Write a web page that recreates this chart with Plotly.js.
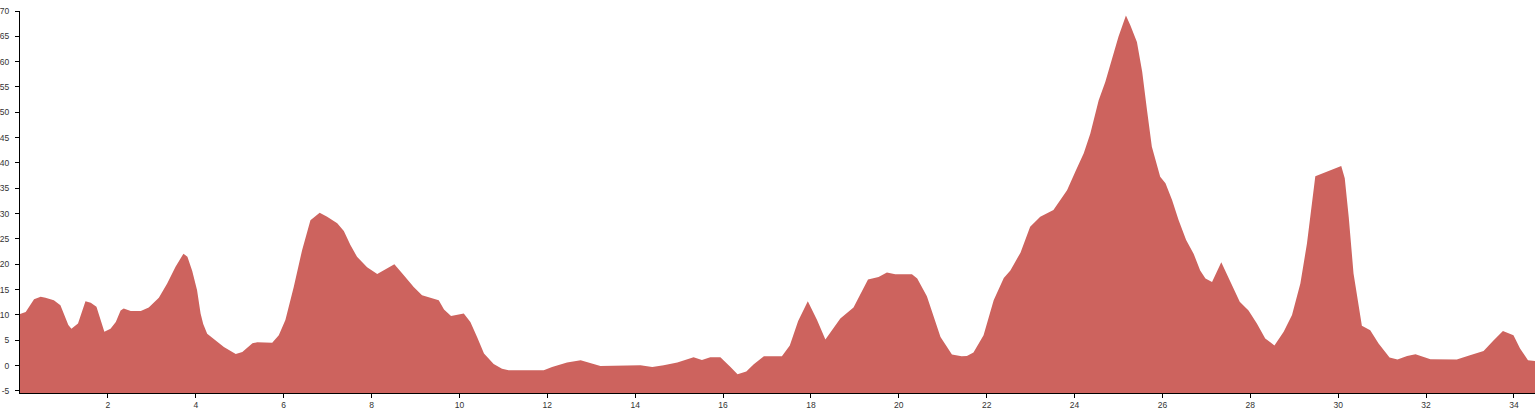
<!DOCTYPE html>
<html>
<head>
<meta charset="utf-8">
<script src="https://cdn.plot.ly/plotly-3.0.1.min.js"></script>
<style>
  html, body { margin: 0; padding: 0; background: #fff; }
  #chart { width: 1538px; height: 410px; }
</style>
</head>
<body>
<div id="chart"></div>
<script>
// Distance along route (km)
const distance = [
  0.00, 0.13, 0.32, 0.47, 0.58, 0.77, 0.92, 1.00, 1.10, 1.17, 1.32, 1.49, 1.61, 1.74, 1.92,
  2.06, 2.18, 2.29, 2.36, 2.52, 2.75, 2.93, 3.16, 3.35, 3.54, 3.72, 3.81, 3.92, 4.03, 4.11,
  4.17, 4.26, 4.45, 4.64, 4.91, 5.06, 5.29, 5.40, 5.74, 5.89, 6.04, 6.23, 6.42, 6.61, 6.82,
  6.99, 7.22, 7.37, 7.52, 7.67, 7.90, 8.13, 8.36, 8.52, 8.73, 8.96, 9.15, 9.34, 9.53, 9.65,
  9.81, 10.10, 10.25, 10.40, 10.56, 10.78, 10.97, 11.12, 11.92, 12.11, 12.45, 12.76, 12.91, 13.21, 14.12,
  14.39, 14.65, 14.96, 15.33, 15.52, 15.71, 15.94, 16.17, 16.33, 16.53, 16.70, 16.93, 17.23, 17.34, 17.52,
  17.71, 17.93, 18.14, 18.33, 18.67, 18.97, 19.13, 19.30, 19.54, 19.73, 19.92, 20.30, 20.42, 20.64, 20.95,
  21.21, 21.43, 21.55, 21.70, 21.93, 22.16, 22.39, 22.54, 22.77, 22.99, 23.22, 23.52, 23.68, 23.83, 24.02,
  24.21, 24.36, 24.55, 24.70, 24.85, 25.00, 25.17, 25.27, 25.42, 25.54, 25.65, 25.76, 25.95, 26.07, 26.22,
  26.37, 26.54, 26.71, 26.86, 26.98, 27.13, 27.34, 27.55, 27.76, 27.96, 28.15, 28.34, 28.55, 28.76, 28.95,
  29.14, 29.29, 29.48, 29.75, 30.07, 30.15, 30.24, 30.35, 30.54, 30.73, 30.92, 31.17, 31.35, 31.57, 31.76,
  32.10, 32.40, 32.70, 33.00, 33.31, 33.54, 33.75, 33.99, 34.14, 34.32, 34.48
];
// Elevation (m)
const elevation = [
  10.2, 10.6, 13.1, 13.6, 13.4, 12.9, 11.9, 10.3, 8.0, 7.3, 8.3, 12.7, 12.4, 11.6, 6.7,
  7.3, 8.6, 10.9, 11.3, 10.8, 10.8, 11.5, 13.4, 16.2, 19.5, 22.1, 21.5, 18.7, 14.9, 10.3,
  8.2, 6.3, 5.0, 3.7, 2.3, 2.7, 4.4, 4.6, 4.5, 6.0, 9.0, 15.5, 22.8, 28.7, 30.2,
  29.4, 28.1, 26.6, 23.8, 21.5, 19.4, 18.1, 19.2, 20.0, 17.9, 15.5, 13.9, 13.4, 12.9, 11.1,
  9.8, 10.3, 8.6, 5.7, 2.4, 0.3, -0.6, -0.9, -0.9, -0.25, 0.6, 1.07, 0.7, -0.05, 0.08,
  -0.25, 0.08, 0.6, 1.66, 1.13, 1.66, 1.66, -0.25, -1.7, -1.17, 0.28, 1.86, 1.92, 1.86, 3.97,
  8.83, 12.7, 9.0, 5.15, 9.3, 11.5, 14.2, 17.0, 17.5, 18.4, 18.05, 18.05, 17.2, 13.7, 5.67,
  2.19, 1.86, 1.92, 2.59, 6.0, 12.9, 17.3, 18.8, 22.3, 27.4, 29.4, 30.7, 32.7, 34.6, 38.3,
  41.9, 45.8, 52.4, 56.0, 60.3, 64.9, 69.1, 67.2, 63.9, 58.0, 50.4, 43.2, 37.3, 36.0, 32.7,
  28.7, 24.8, 22.1, 18.8, 17.2, 16.5, 20.4, 16.5, 12.6, 10.9, 8.3, 5.35, 4.0, 6.7, 10.0,
  16.2, 24.1, 37.4, 38.3, 39.4, 37.0, 29.4, 18.2, 7.85, 7.0, 4.36, 1.6, 1.2, 1.92, 2.25,
  1.26, 1.2, 1.2, 2.05, 2.9, 5.0, 6.86, 6.0, 3.4, 1.07, 0.93
];
const xTicks = [2, 4, 6, 8, 10, 12, 14, 16, 18, 20, 22, 24, 26, 28, 30, 32, 34];
const yTicks = [-5, 0, 5, 10, 15, 20, 25, 30, 35, 40, 45, 50, 55, 60, 65, 70];

const xMin = 0, xMax = distance[distance.length - 1];
const yMin = -5.4, yMax = 70;
const fillColor = 'rgb(205,99,94)';

const baseline = {
  x: [xMin, xMax], y: [yMin, yMin],
  type: 'scatter', mode: 'lines',
  line: { width: 0, color: fillColor },
  hoverinfo: 'skip', showlegend: false
};
const profile = {
  x: distance, y: elevation,
  type: 'scatter', mode: 'lines',
  fill: 'tonexty', fillcolor: fillColor,
  line: { width: 0, color: fillColor, shape: 'linear' },
  showlegend: false
};

const axisFont = { family: 'Liberation Sans, Arial, sans-serif', size: 8.5, color: '#333' };

const layout = {
  width: 1538, height: 410,
  margin: { l: 20, r: 3, t: 11, b: 17 },
  paper_bgcolor: '#fff', plot_bgcolor: '#fff',
  showlegend: false,
  xaxis: {
    range: [xMin, xMax],
    tickmode: 'array', tickvals: xTicks, ticktext: xTicks.map(String),
    ticks: 'outside', ticklen: 4, tickwidth: 1, tickcolor: '#000',
    showline: true, linecolor: '#000', linewidth: 1,
    showgrid: false, zeroline: false,
    tickfont: axisFont
  },
  yaxis: {
    range: [yMin, yMax],
    tickmode: 'array', tickvals: yTicks, ticktext: yTicks.map(String),
    ticks: 'outside', ticklen: 4, tickwidth: 1, tickcolor: '#000',
    ticklabelstandoff: 4,
    showline: true, linecolor: '#000', linewidth: 1,
    showgrid: false, zeroline: false,
    tickfont: axisFont
  }
};

Plotly.newPlot('chart', [baseline, profile], layout, { displayModeBar: false, staticPlot: true });
</script>
</body>
</html>
